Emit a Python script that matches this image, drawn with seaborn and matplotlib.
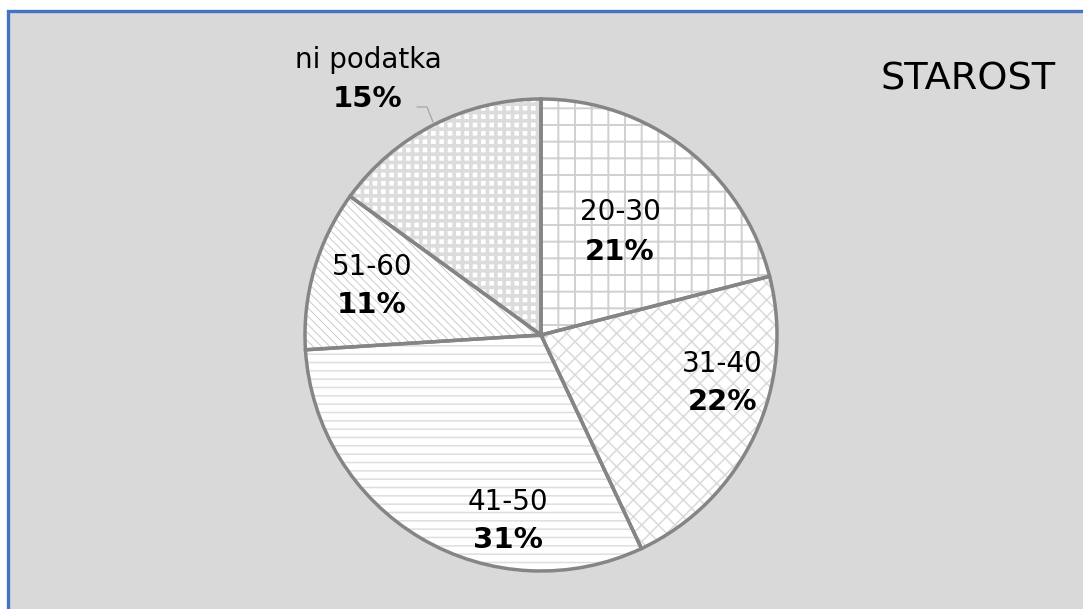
import numpy as np
import matplotlib
matplotlib.use("Agg")
import matplotlib.pyplot as plt
from matplotlib.patches import Rectangle
from matplotlib.lines import Line2D
import seaborn as sns

# ---- data ----
categories = ["20-30", "31-40", "41-50", "51-60", "ni podatka"]
shares = [21, 22, 31, 11, 15]
pct_labels = ["21%", "22%", "31%", "11%", "15%"]
title_text = "STAROST"

# ---- style ----
sns.set_theme(style="white")
plt.rcParams["font.family"] = ["DejaVu Sans"]

W, H = 1083, 609
fig = plt.figure(figsize=(W / 100, H / 100), dpi=100)
fig.patch.set_facecolor("white")

# chart area background with blue border (left/top visible)
bg = Rectangle((8 / W, -0.05), 1.1, (H - 11) / H + 0.05,
               transform=fig.transFigure, facecolor="#D9D9D9",
               edgecolor="#4472C4", linewidth=2.4, zorder=-10)
fig.patches.append(bg)

# pie geometry (pixels)
cx, cy, R = 541, 335, 236
ax = fig.add_axes([(cx - R) / W, (H - cy - R) / H, 2 * R / W, 2 * R / H])
ax.set_zorder(5)
ax.set_facecolor("none")
ax.patch.set_alpha(0)
ax.axis("off")

hatches = ["+", "xx", "--", "\\\\\\\\", "++"]
hatch_cols = ["#D0D0D0", "#DADADA", "#DEDEDE", "#C4C4C4", "#DCDCDC"]
hatch_lw = [1.4, 1.1, 1.1, 0.6, 2.6]

wedges, _ = ax.pie(shares, startangle=90, counterclock=False, radius=1,
                   colors=["white"] * len(shares),
                   wedgeprops=dict(linewidth=0))
for w, h, hc, hl in zip(wedges, hatches, hatch_cols, hatch_lw):
    w.set_hatch(h)
    w.set_edgecolor(hc)
    w.set_linewidth(0)
    if hasattr(w, "set_hatch_linewidth"):
        w.set_hatch_linewidth(hl)

# outlines on top
outl, _ = ax.pie(shares, startangle=90, counterclock=False, radius=1,
                 colors=["none"] * len(shares),
                 wedgeprops=dict(linewidth=2.5, edgecolor="#858585",
                                 facecolor="none"))
ax.set_xlim(-1, 1)
ax.set_ylim(-1, 1)

# ---- labels (layout positions in pixels: x center, baseline of name, baseline of pct)
label_pos = [(620, 220, 260), (722, 372, 410), (508, 510, 548),
             (372, 275, 313), (368, 68, 107)]

def to_data(px, py):
    return (px - cx) / R, (cy - py) / R

for name, pct, (lx, b1, b2) in zip(categories, pct_labels, label_pos):
    x1, y1 = to_data(lx, b1)
    x2, y2 = to_data(lx, b2)
    ax.text(x1, y1, name, ha="center", va="baseline", fontsize=20,
            color="black", clip_on=False)
    ax.text(x2, y2, pct, ha="center", va="baseline", fontsize=21,
            fontweight="bold", color="black", clip_on=False)

# leader line for "ni podatka"
lp = [to_data(417, 107), to_data(427, 107), to_data(433, 122)]
ax.add_line(Line2D([p[0] for p in lp], [p[1] for p in lp], color="#A6A6A6",
                   linewidth=0.9, clip_on=False))

fig.text(968 / W, 1 - 89 / H, title_text, ha="center", va="baseline",
         fontsize=27.5, color="black")

fig.savefig("out.png", dpi=100)
